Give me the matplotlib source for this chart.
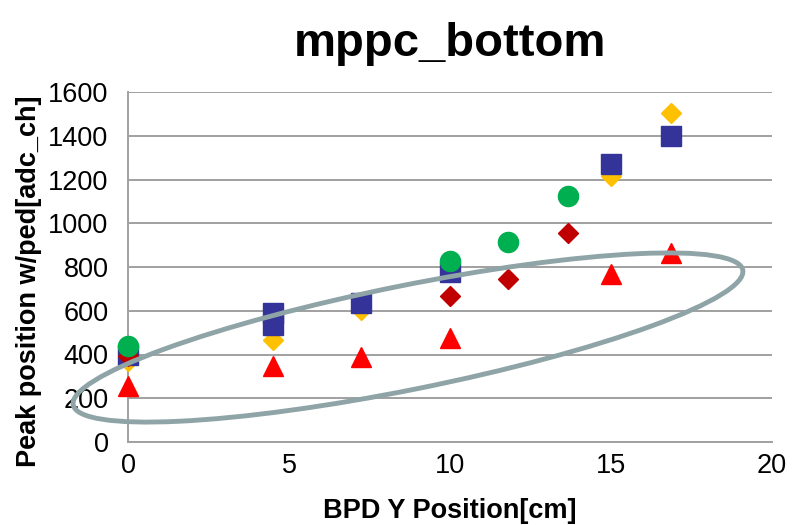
import matplotlib
matplotlib.use("Agg")
from matplotlib import pyplot as plt
from matplotlib.patches import Ellipse

plt.rcParams['font.family'] = ['Liberation Sans', 'DejaVu Sans']

# series
x_tri = [0, 4.5, 7.25, 10, 15, 16.85]
y_tri = [256, 347, 390, 475, 768, 864]

x_gold = [0, 4.5, 7.25, 10, 15, 16.85]
y_gold = [370, 466, 603, 780, 1218, 1505]

x_blue = [0, 4.5, 4.5, 7.25, 10, 15, 16.85]
y_blue = [398, 590, 535, 635, 777, 1271, 1399]

x_dred = [0, 10, 11.8, 13.65]
y_dred = [395, 667, 745, 955]

x_green = [0, 10, 11.8, 13.65]
y_green = [439, 827, 913, 1125]

x_ticks = [0, 5, 10, 15, 20]
y_ticks = list(range(0, 1601, 200))

fig = plt.figure(figsize=(7.92, 5.25), dpi=100)
ax = fig.add_axes([128/792, 83/525, 644/792, 350/525])

ax.plot(x_tri, y_tri, ls='none', marker='^', ms=15, color='#FF0000', zorder=3, clip_on=False)
ax.plot(x_gold, y_gold, ls='none', marker='D', ms=10.5, color='#FFC000', zorder=4, clip_on=False)
ax.plot(x_blue, y_blue, ls='none', marker='s', ms=14, color='#333399', zorder=5, clip_on=False)
ax.plot(x_dred, y_dred, ls='none', marker='D', ms=10.5, color='#C00000', zorder=6, clip_on=False)
ax.plot(x_green, y_green, ls='none', marker='o', ms=14.5, color='#00B050', zorder=7, clip_on=False)

ax.set_xlim(0, 20)
ax.set_ylim(0, 1600)
ax.set_xticks(x_ticks)
ax.set_yticks(y_ticks)
ax.tick_params(length=0, labelsize=19.5)
ax.tick_params(axis='y', pad=14)
ax.tick_params(axis='x', pad=8)
ax.grid(axis='y', color='#A0A0A0', lw=1.4)
ax.set_axisbelow(True)
for s in ['top', 'right']:
    ax.spines[s].set_visible(False)
for s in ['left', 'bottom']:
    ax.spines[s].set_color('#A0A0A0')
    ax.spines[s].set_linewidth(1.4)

ax.set_title('mppc_bottom', fontsize=34, fontweight='bold', pad=26)
ax.set_xlabel('BPD Y Position[cm]', fontsize=19.5, fontweight='bold')
ax.set_ylabel('Peak position w/ped[adc_ch]', fontsize=19.5, fontweight='bold')
ax.xaxis.set_label_coords(0.5, -0.16)
ax.yaxis.set_label_coords(-0.133, 0.46)

# hand-drawn ellipse, placed in inches so it keeps its shape
ell = Ellipse((4.08, (525 - 337.5) / 100), 6.83, 1.04, angle=11.4,
              fill=False, ec='#8FA4A6', lw=3.5, transform=fig.dpi_scale_trans,
              zorder=10, clip_on=False)
fig.add_artist(ell)

fig.savefig('out.png', dpi=100)
